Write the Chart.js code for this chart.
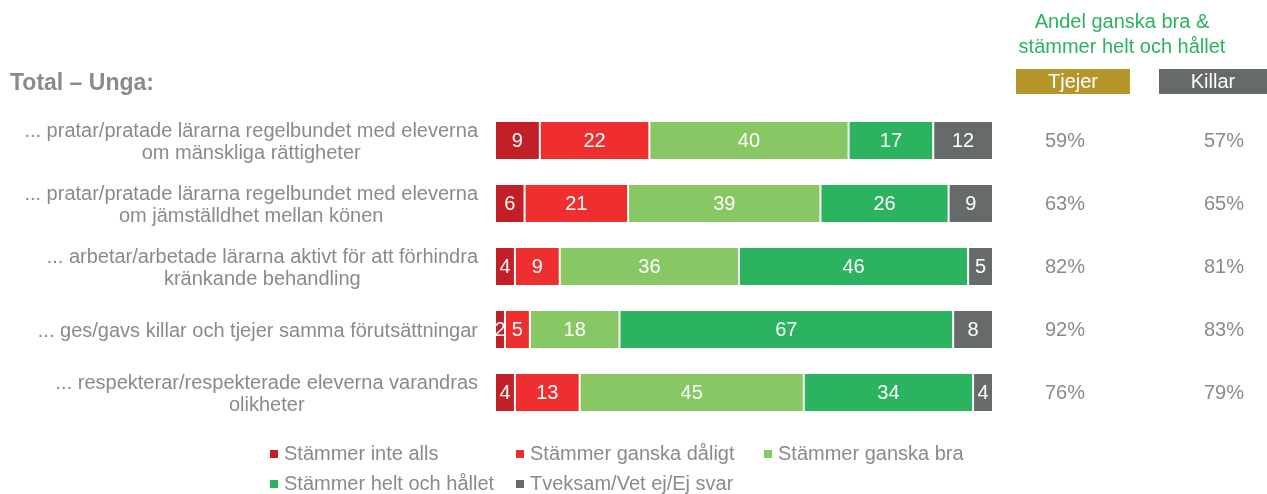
<!DOCTYPE html>
<html>
<head>
<meta charset="utf-8">
<script src="https://cdn.jsdelivr.net/npm/chart.js@4"></script>
<style>
  body { margin: 0; background: #fff; font-family: "Liberation Sans", Arial, sans-serif; }
  #wrap { position: relative; width: 1267px; height: 494px; }
  #title { position: absolute; left: 10px; top: 69px; font-size: 23px; font-weight: bold; color: #8a8a8a; }
  #andel { position: absolute; left: 992px; width: 260px; top: 9px; text-align: center; font-size: 20px; line-height: 25px; color: #2bb35f; }
  .grp { position: absolute; top: 69px; height: 25px; line-height: 25px; text-align: center; color: #fff; font-size: 20px; }
  #legend { position: absolute; left: 270px; top: 442px; display: grid; grid-template-columns: 246px 248px 246px; row-gap: 7px; }
  .li { display: flex; align-items: center; font-size: 20px; color: #8a8a8a; white-space: nowrap; height: 23px; }
  .sq { width: 8px; height: 8px; margin-right: 6px; }
</style>
</head>
<body>
<div id="wrap">
  <canvas id="chart" width="1267" height="494"></canvas>
  <div id="title">Total – Unga:</div>
  <div id="andel">Andel ganska bra &amp;<br>stämmer helt och hållet</div>
  <div class="grp" style="left:1016px;width:114px;background:#b5962a;">Tjejer</div>
  <div class="grp" style="left:1159px;width:108px;background:#676a6b;">Killar</div>
  <div id="legend"></div>
</div>
<script>
// Kategorier (radetiketter)
const categories = [
    ['... pratar/pratade lärarna regelbundet med eleverna', 'om mänskliga rättigheter'],
    ['... pratar/pratade lärarna regelbundet med eleverna', 'om jämställdhet mellan könen'],
    ['... arbetar/arbetade lärarna aktivt för att förhindra', 'kränkande behandling'],
    ['... ges/gavs killar och tjejer samma förutsättningar'],
    ['... respekterar/respekterade eleverna varandras', 'olikheter']
];

// Serier
const seriesNames = ['Stämmer inte alls', 'Stämmer ganska dåligt', 'Stämmer ganska bra', 'Stämmer helt och hållet', 'Tveksam/Vet ej/Ej svar'];
const inteAlls = [9, 6, 4, 2, 4];
const ganskaDaligt = [22, 21, 9, 5, 13];
const ganskaBra = [40, 39, 36, 18, 45];
const heltOchHallet = [17, 26, 46, 67, 34];
const tveksam = [12, 9, 5, 8, 4];
const seriesColors = ['#c21f26', '#ee2e2f', '#87c764', '#2bb35f', '#676a6b'];

// Andel ganska bra & helt och hållet
const tjejerAndel = [59, 63, 82, 92, 76];
const killarAndel = [57, 65, 81, 83, 79];

const allSeries = [inteAlls, ganskaDaligt, ganskaBra, heltOchHallet, tveksam];
const rowTotals = categories.map((_, i) => allSeries.reduce((s, arr) => s + arr[i], 0));

const textGray = '#8a8a8a';
const font = '20px "Liberation Sans", Arial, sans-serif';

const datasets = allSeries.map((values, k) => ({
    label: seriesNames[k],
    data: values.map((v, i) => v / rowTotals[i] * 100),
    rawValues: values,
    backgroundColor: seriesColors[k],
    borderColor: '#ffffff',
    borderWidth: { left: 1, right: 1, top: 0, bottom: 0 },
    borderSkipped: false,
    barPercentage: 1,
    categoryPercentage: 0.59
}));

// Egen plugin: radetiketter, värden i staplarna och andelskolumner
const drawPlugin = {
    id: 'drawTexts',
    afterDatasetsDraw(chart) {
        const ctx = chart.ctx;
        const yScale = chart.scales.y;
        const area = chart.chartArea;
        ctx.save();
        ctx.font = font;
        ctx.textBaseline = 'middle';

        // värden i segmenten
        ctx.fillStyle = '#ffffff';
        ctx.textAlign = 'center';
        chart.data.datasets.forEach((ds, k) => {
            const meta = chart.getDatasetMeta(k);
            meta.data.forEach((bar, i) => {
                ctx.fillText(String(ds.rawValues[i]), (bar.x + bar.base) / 2, bar.y + 1);
            });
        });

        // radetiketter, centrerade per block och högerställda
        ctx.fillStyle = textGray;
        categories.forEach((lines, i) => {
            const y = yScale.getPixelForValue(i);
            const widest = Math.max(...lines.map(l => ctx.measureText(l).width));
            const cx = area.left - 17 - widest / 2;
            const y0 = y + 2 - (lines.length - 1) * 11;
            lines.forEach((l, j) => ctx.fillText(l, cx, y0 + j * 22));
        });

        // andelar
        categories.forEach((_, i) => {
            const y = yScale.getPixelForValue(i);
            ctx.fillText(tjejerAndel[i] + '%', area.right + 72, y + 1);
            ctx.fillText(killarAndel[i] + '%', area.right + 231, y + 1);
        });
        ctx.restore();
    }
};

const chart = new Chart(document.getElementById('chart').getContext('2d'), {
    type: 'bar',
    data: { labels: categories, datasets: datasets },
    options: {
        indexAxis: 'y',
        responsive: false,
        animation: false,
        layout: { padding: { left: 495, right: 274, top: 109, bottom: 70 } },
        scales: {
            x: { stacked: true, min: 0, max: 100, display: false },
            y: { stacked: true, display: false }
        },
        plugins: {
            legend: { display: false },
            tooltip: { enabled: false }
        }
    },
    plugins: [drawPlugin]
});

// HTML-legend från datasets
const legendEl = document.getElementById('legend');
chart.data.datasets.forEach(ds => {
    const item = document.createElement('div');
    item.className = 'li';
    const sq = document.createElement('span');
    sq.className = 'sq';
    sq.style.background = ds.backgroundColor;
    item.appendChild(sq);
    item.appendChild(document.createTextNode(ds.label));
    legendEl.appendChild(item);
});
</script>
</body>
</html>
